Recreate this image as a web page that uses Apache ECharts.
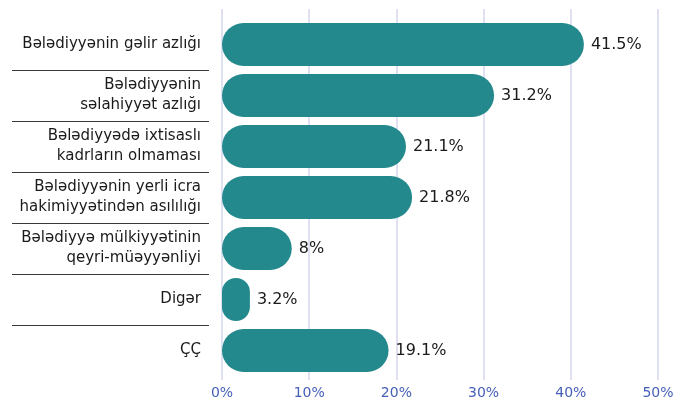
<!DOCTYPE html>
<html>
<head>
<meta charset="utf-8">
<script src="https://cdn.jsdelivr.net/npm/echarts@6/dist/echarts.min.js"></script>
<style>
    html, body { margin: 0; padding: 0; background: #fff; }
    #chart { width: 683px; height: 402px; }
</style>
</head>
<body>
<div id="chart"></div>
<script>
// data
const categories = [
    'Bələdiyyənin gəlir azlığı',
    'Bələdiyyənin\nsəlahiyyət azlığı',
    'Bələdiyyədə ixtisaslı\nkadrların olmaması',
    'Bələdiyyənin yerli icra\nhakimiyyətindən asılılığı',
    'Bələdiyyə mülkiyyətinin\nqeyri-müəyyənliyi',
    'Digər',
    'ÇÇ',
];
const values = [41.5, 31.2, 21.1, 21.8, 8, 3.2, 19.1];
const xTicks = [0, 10, 20, 30, 40, 50];

const FONT = 'DejaVu Sans';
const BAR_COLOR = '#24898c';

// layout
const plotLeft = 222;
const plotRight = 25;
const rowTop = 19;
const rowH = 51;

const chart = echarts.init(document.getElementById('chart'));

const option = {
    animation: false,
    grid: [
        // background: vertical grid lines + percent labels
        { left: plotLeft, right: plotRight, top: 9, bottom: 22 },
        // bars
        { left: plotLeft, right: plotRight, top: rowTop, height: rowH * categories.length },
        // separators under the category labels
        { left: 12, width: 197, top: rowTop + rowH, height: rowH * (categories.length - 2) },
    ],
    xAxis: [
        {
            gridIndex: 0,
            type: 'value',
            min: xTicks[0],
            max: xTicks[xTicks.length - 1],
            interval: xTicks[1] - xTicks[0],
            axisLine: { show: false },
            axisTick: { show: false },
            splitLine: { lineStyle: { color: '#d6d6ef', width: 1.5 } },
            axisLabel: {
                formatter: '{value}%',
                color: '#4660b8',
                fontFamily: FONT,
                fontSize: 14,
                margin: 6,
            },
        },
        {
            gridIndex: 1,
            type: 'value',
            min: xTicks[0],
            max: xTicks[xTicks.length - 1],
            show: false,
        },
        { gridIndex: 2, type: 'value', show: false },
    ],
    yAxis: [
        { gridIndex: 0, type: 'value', show: false },
        {
            gridIndex: 1,
            type: 'category',
            inverse: true,
            data: categories,
            axisLine: { show: false },
            axisTick: { show: false },
            axisLabel: {
                color: '#1a1a1a',
                fontFamily: FONT,
                fontSize: 15,
                lineHeight: 20,
                margin: 21,
                align: 'right',
            },
        },
        {
            gridIndex: 2,
            type: 'value',
            min: 1,
            max: categories.length - 1,
            interval: 1,
            axisLine: { show: false },
            axisTick: { show: false },
            axisLabel: { show: false },
            splitLine: { lineStyle: { color: '#3a3a3a', width: 1.2 } },
        },
    ],
    series: [
        {
            type: 'bar',
            xAxisIndex: 1,
            yAxisIndex: 1,
            data: values,
            barWidth: 43,
            itemStyle: {
                color: BAR_COLOR,
                borderRadius: 21.5,
            },
            label: {
                show: true,
                position: 'right',
                distance: 7,
                formatter: '{c}%',
                color: '#1a1a1a',
                fontFamily: FONT,
                fontSize: 16,
            },
        },
    ],
};

chart.setOption(option);
</script>
</body>
</html>
